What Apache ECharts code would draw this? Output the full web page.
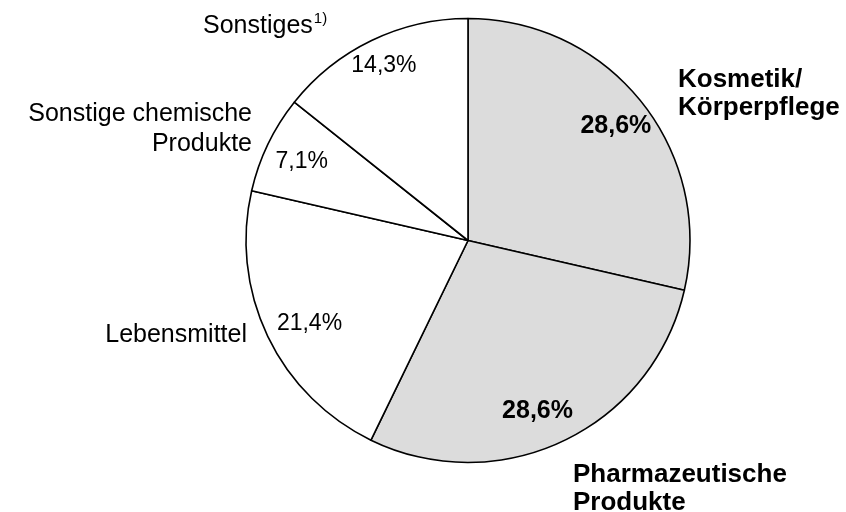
<!DOCTYPE html>
<html>
<head>
<meta charset="utf-8">
<script src="https://cdn.jsdelivr.net/npm/echarts@6/dist/echarts.min.js"></script>
<style>
  html, body { margin: 0; padding: 0; background: #fff; }
  #main { width: 846px; height: 512px; }
</style>
</head>
<body>
<div id="main"></div>
<script>
// Daten
var names = ['Kosmetik/\nKörperpflege', 'Pharmazeutische\nProdukte', 'Lebensmittel', 'Sonstige chemische\nProdukte', 'Sonstiges']
var values = [28.6, 28.6, 21.4, 7.1, 14.3]
var footnotes = ['', '', '', '', '1)']
var bold = [true, true, false, false, false]

// Layout der Beschriftungen
var namePos = [[678, 93.5, 'left'], [573, 488.5, 'left'], [247, 335, 'right'], [252, 129, 'right'], [203, 26, 'left']]
var pctShift = [[0, 3], [-12, 0], [12, 2], [4, 3], [-2, -5]]

var font = 'Liberation Sans, Arial, sans-serif'
var center = [468, 240.5]

function fmtPct(v) {
  return v.toFixed(1).replace('.', ',') + '%'
}

var sliceData = values.map(function (v, i) {
  return {
    name: names[i],
    value: v,
    itemStyle: { color: bold[i] ? '#dcdcdc' : '#ffffff' }
  }
})

var plainData = values.map(function (v, i) {
  return { name: names[i], value: v }
})

var myChart = echarts.init(document.getElementById('main'))
var option = {
  backgroundColor: '#ffffff',
  animation: false,
  series: [
    {
      type: 'pie',
      center: center,
      radius: 222,
      startAngle: 90,
      silent: true,
      label: { show: false },
      labelLine: { show: false },
      itemStyle: { borderColor: '#000', borderWidth: 1.6 },
      data: sliceData
    },
    {
      // Prozentwerte innen
      type: 'pie',
      center: center,
      radius: [150, 222],
      startAngle: 90,
      silent: true,
      itemStyle: { color: 'rgba(0,0,0,0)' },
      label: {
        show: true,
        position: 'inside',
        formatter: function (p) {
          return (bold[p.dataIndex] ? '{b|' : '{r|') + fmtPct(p.value) + '}'
        },
        rich: {
          r: { fontFamily: font, fontSize: 23, color: '#000' },
          b: { fontFamily: font, fontSize: 25, fontWeight: 'bold', color: '#000' }
        }
      },
      labelLayout: function (p) {
        return { dx: pctShift[p.dataIndex][0], dy: pctShift[p.dataIndex][1] }
      },
      data: plainData
    },
    {
      // Kategorienamen außen
      type: 'pie',
      center: center,
      radius: 222,
      startAngle: 90,
      silent: true,
      avoidLabelOverlap: false,
      itemStyle: { color: 'rgba(0,0,0,0)' },
      labelLine: { show: false },
      label: {
        show: true,
        position: 'outside',
        formatter: function (p) {
          var i = p.dataIndex
          var key = bold[i] ? 'b' : 'r'
          var lines = p.name.split('\n').map(function (t) { return '{' + key + '|' + t + '}' })
          if (footnotes[i]) lines[lines.length - 1] += '{s|' + footnotes[i] + '}'
          return lines.join('\n')
        },
        rich: {
          r: { fontFamily: font, fontSize: 25, color: '#000', lineHeight: 30 },
          b: { fontFamily: font, fontSize: 26, fontWeight: 'bold', color: '#000', lineHeight: 28 },
          s: { fontFamily: font, fontSize: 15, color: '#000', verticalAlign: 'top', padding: [0, 0, 6, 1] }
        }
      },
      labelLayout: function (p) {
        var pos = namePos[p.dataIndex]
        return { x: pos[0], y: pos[1], align: pos[2], verticalAlign: 'middle' }
      },
      data: plainData
    }
  ]
}
myChart.setOption(option)
</script>
</body>
</html>
